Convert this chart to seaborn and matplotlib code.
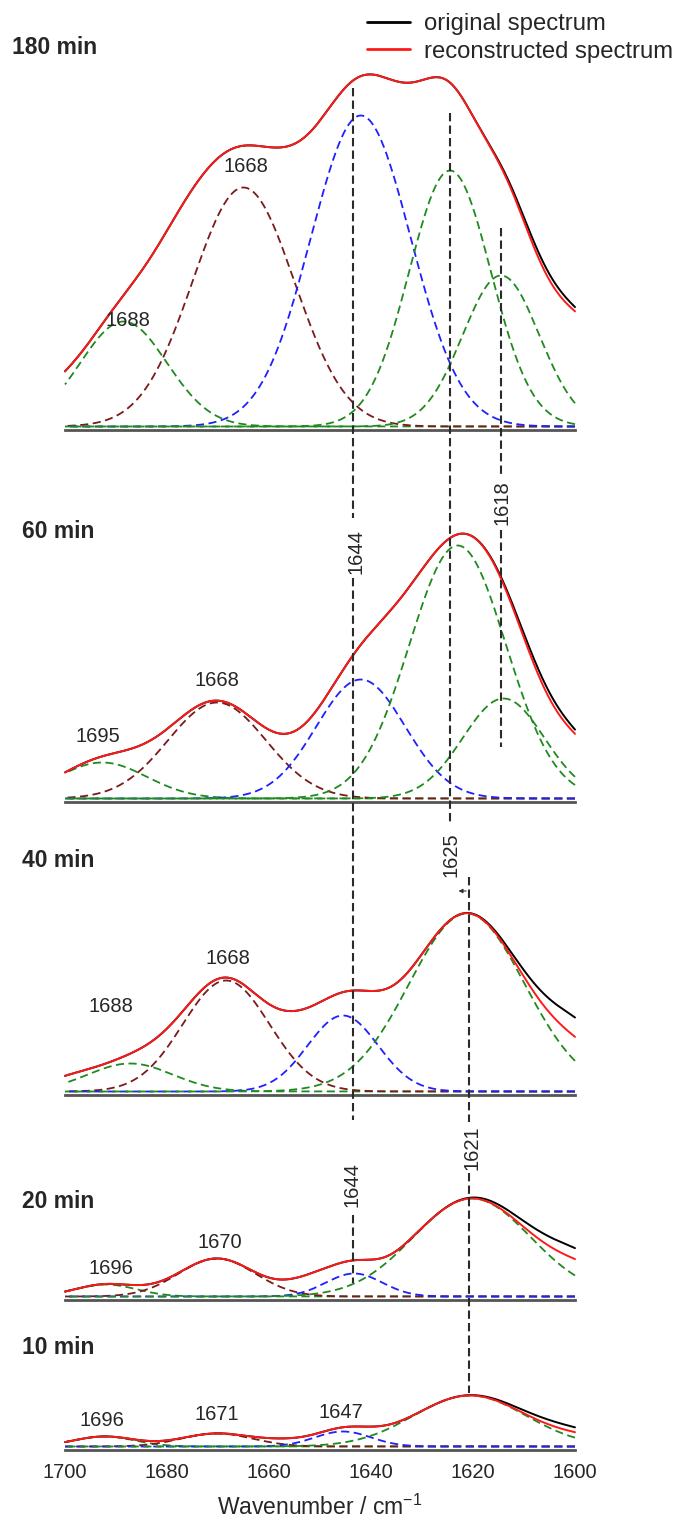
import numpy as np
import matplotlib
matplotlib.use('Agg')
import matplotlib.pyplot as plt
from matplotlib.lines import Line2D
import seaborn as sns

# ============================================
# DATA
# band centre (cm-1), height (a.u.), gaussian sigma (cm-1)
# ============================================

panel_labels = ['180 min', '60 min', '40 min', '20 min', '10 min']

# fitted components, drawn dashed
comp_180_center = [1688.5, 1665.0, 1642.0, 1624.5, 1614.5]
comp_180_height = [0.105, 0.239, 0.311, 0.256, 0.151]
comp_180_sigma = [8.5, 10.0, 9.8, 8.0, 7.5]
comp_180_color = ['green', 'brown', 'blue', 'green', 'green']

comp_60_center = [1692.7, 1670.2, 1642.0, 1623.0, 1614.0]
comp_60_height = [0.036, 0.096, 0.119, 0.253, 0.100]
comp_60_sigma = [8.7, 9.6, 8.7, 9.5, 8.0]
comp_60_color = ['green', 'brown', 'blue', 'green', 'green']

comp_40_center = [1687.2, 1668.4, 1645.5, 1621.2]
comp_40_height = [0.028, 0.111, 0.076, 0.178]
comp_40_sigma = [8.3, 8.5, 6.9, 11.3]
comp_40_color = ['green', 'brown', 'blue', 'green']

comp_20_center = [1692.0, 1670.2, 1643.3, 1620.2]
comp_20_height = [0.012, 0.038, 0.023, 0.098]
comp_20_sigma = [6.0, 7.5, 5.5, 11.5]
comp_20_color = ['green', 'brown', 'blue', 'green']

comp_10_center = [1692.3, 1670.2, 1645.5, 1620.6]
comp_10_height = [0.010, 0.013, 0.015, 0.051]
comp_10_sigma = [6.0, 7.0, 5.5, 11.0]
comp_10_color = ['green', 'brown', 'blue', 'green']

# extra terms of the reconstructed spectrum that are not drawn
extra_180_center = [1598.0, 1678.0, 1671.0, 1619.0, 1628.0, 1703.0, 1656.0]
extra_180_height = [0.092, 0.050, 0.022, -0.045, -0.020, 0.015, 0.008]
extra_180_sigma = [8.5, 6.0, 6.0, 4.5, 6.0, 5.0, 5.0]

extra_60_center = [1598.0, 1619.0]
extra_60_height = [0.035, -0.060]
extra_60_sigma = [6.0, 8.0]

extra_40_center = [1598.0, 1655.0, 1700.0]
extra_40_height = [0.025, 0.017, 0.007]
extra_40_sigma = [7.0, 5.0, 5.0]

extra_20_center = [1597.0, 1652.0, 1638.0]
extra_20_height = [0.018, 0.012, -0.006]
extra_20_sigma = [7.0, 5.0, 4.0]

extra_10_center = [1597.0, 1657.0]
extra_10_height = [0.006, 0.004]
extra_10_sigma = [7.0, 5.0]

# original minus reconstructed
resid_center = [1605.0, 1605.0, 1598.0, 1600.0, 1602.0]
resid_height = [0.006, 0.006, 0.020, 0.011, 0.005]
resid_sigma = [6.0, 6.0, 8.0, 9.0, 8.0]

# marked band positions (dashed guide lines) and their labels
guide_pos = [1643.5, 1624.6, 1620.8, 1614.5]
guide_text = ['1644', '1625', '1621', '1618']

tick_values = [1700, 1680, 1660, 1640, 1620, 1600]
tick_labels = ['1700', '1680', '1660', '1640', '1620', '1600']

components = [
    (comp_180_center, comp_180_height, comp_180_sigma, comp_180_color),
    (comp_60_center, comp_60_height, comp_60_sigma, comp_60_color),
    (comp_40_center, comp_40_height, comp_40_sigma, comp_40_color),
    (comp_20_center, comp_20_height, comp_20_sigma, comp_20_color),
    (comp_10_center, comp_10_height, comp_10_sigma, comp_10_color),
]
extras = [
    (extra_180_center, extra_180_height, extra_180_sigma),
    (extra_60_center, extra_60_height, extra_60_sigma),
    (extra_40_center, extra_40_height, extra_40_sigma),
    (extra_20_center, extra_20_height, extra_20_sigma),
    (extra_10_center, extra_10_height, extra_10_sigma),
]

colors = {'green': '#1f8a1f', 'brown': '#7a1a1a', 'blue': '#1f1fff'}

# ============================================
# LAYOUT (pixels of the 678 x 1517 image)
# ============================================

W, H = 678, 1517
x_left, x_right = 65, 575
axis_y = [430, 802, 1095, 1300, 1450]
axis_top = [50, 470, 870, 1150, 1370]
base_off = 3.5
px = 0.001


def fx(x):
    return x / W


def fy(y):
    return 1 - y / H


def band(x, c, h, s):
    return h * np.exp(-0.5 * ((x - c) / s) ** 2)


sns.set_style('white')
plt.rcParams['font.family'] = ['Liberation Sans', 'DejaVu Sans']
plt.rcParams['mathtext.default'] = 'regular'

wn = np.linspace(1700, 1600, 801)

fig = plt.figure(figsize=(W / 100, H / 100), dpi=100)

for i in range(5):
    ax = fig.add_axes([fx(x_left), fy(axis_y[i]),
                       fx(x_right - x_left), (axis_y[i] - axis_top[i]) / H])
    ax.patch.set_alpha(0)

    cc, hh, ss, kk = components[i]
    recon = np.zeros_like(wn)
    for c, h, s, k in zip(cc, hh, ss, kk):
        y = band(wn, c, h, s)
        recon += y
        sns.lineplot(x=wn, y=y, ax=ax, color=colors[k], lw=1.3,
                     linestyle=(0, (4.5, 2.5)), clip_on=False)
    for c, h, s in zip(*extras[i]):
        recon += band(wn, c, h, s)
    orig = recon + band(wn, resid_center[i], resid_height[i], resid_sigma[i])

    sns.lineplot(x=wn, y=orig, ax=ax, color='black', lw=1.4, clip_on=False)
    sns.lineplot(x=wn, y=recon, ax=ax, color='#ff1a1a', lw=1.4, clip_on=False)

    ax.set_xlim(1700, 1600)
    ax.set_ylim(-base_off * px, (axis_y[i] - axis_top[i] - base_off) * px)
    for s in ['left', 'right', 'top']:
        ax.spines[s].set_visible(False)
    ax.spines['bottom'].set_color('#555555')
    ax.spines['bottom'].set_linewidth(2)
    ax.set_yticks([])
    ax.set_xticks(tick_values)
    ax.set_xticks(np.arange(1690, 1600, -20), minor=True)
    ax.tick_params(axis='x', which='both', direction='out', length=5.5,
                   width=1.2, color='#444444', labelsize=14.5, pad=4)
    ax.set_xlabel('')
    ax.set_ylabel('')
    if i < 4:
        ax.set_xticklabels([])
    else:
        ax.set_xticklabels(tick_labels)
        ax.set_xlabel('Wavenumber / cm$^{-1}$', fontsize=16.5, labelpad=9)

    fig.text(fx(22 if i else 12), fy([47, 532, 860, 1202, 1347][i]),
             panel_labels[i], fontsize=16.5, fontweight='bold',
             va='center', ha='left')

# overlay for guide lines that run through several panels
ov = fig.add_axes([fx(x_left), 0, fx(x_right - x_left), 1])
ov.set_xlim(1700, 1600)
ov.set_ylim(H, 0)
ov.axis('off')
ov.patch.set_alpha(0)

guide_segments = [
    [(88, 518), (578, 1120), (1215, 1283)],
    [(113, 823)],
    [(877, 1122), (1173, 1393)],
    [(228, 476), (530, 747)],
]
for pos, segs in zip(guide_pos, guide_segments):
    for y0, y1 in segs:
        ov.vlines(pos, y0, y1, colors='#2a2a2a', lw=1.5,
                  linestyles=(0, (4, 2)))

guide_label_pos = [(guide_text[0], 1642.9, 552), (guide_text[3], 1614.3, 503),
                   (guide_text[1], 1624.3, 855), (guide_text[0], 1643.7, 1185),
                   (guide_text[2], 1620.2, 1148)]
for t, x, y in guide_label_pos:
    ov.text(x, y, t, rotation=90, fontsize=14.5, ha='center', va='center')

ov.annotate('', xy=(1623.4, 891), xytext=(1620.8, 891),
            arrowprops=dict(arrowstyle='-|>', lw=0.8, color='#333333',
                            mutation_scale=6))

peak_labels = [
    ('1668', 246, 167), ('1688', 128, 320),
    ('1695', 98, 737), ('1668', 217, 680),
    ('1688', 111, 1007), ('1668', 228, 958),
    ('1696', 111, 1268), ('1670', 220, 1242),
    ('1696', 102, 1420), ('1671', 217, 1415), ('1647', 341, 1412),
]
for t, x, y in peak_labels:
    fig.text(fx(x), fy(y), t, fontsize=14.5, ha='center', va='center')

handles = [Line2D([], [], color='black', lw=2),
           Line2D([], [], color='#ff1a1a', lw=2)]
fig.legend(handles, ['original spectrum', 'reconstructed spectrum'],
           loc='upper left', bbox_to_anchor=(fx(367), fy(13)), frameon=False,
           fontsize=17.2, handlelength=1.8, handletextpad=0.6,
           labelspacing=0.24, borderpad=0, borderaxespad=0)

fig.savefig('out.png', dpi=100)
